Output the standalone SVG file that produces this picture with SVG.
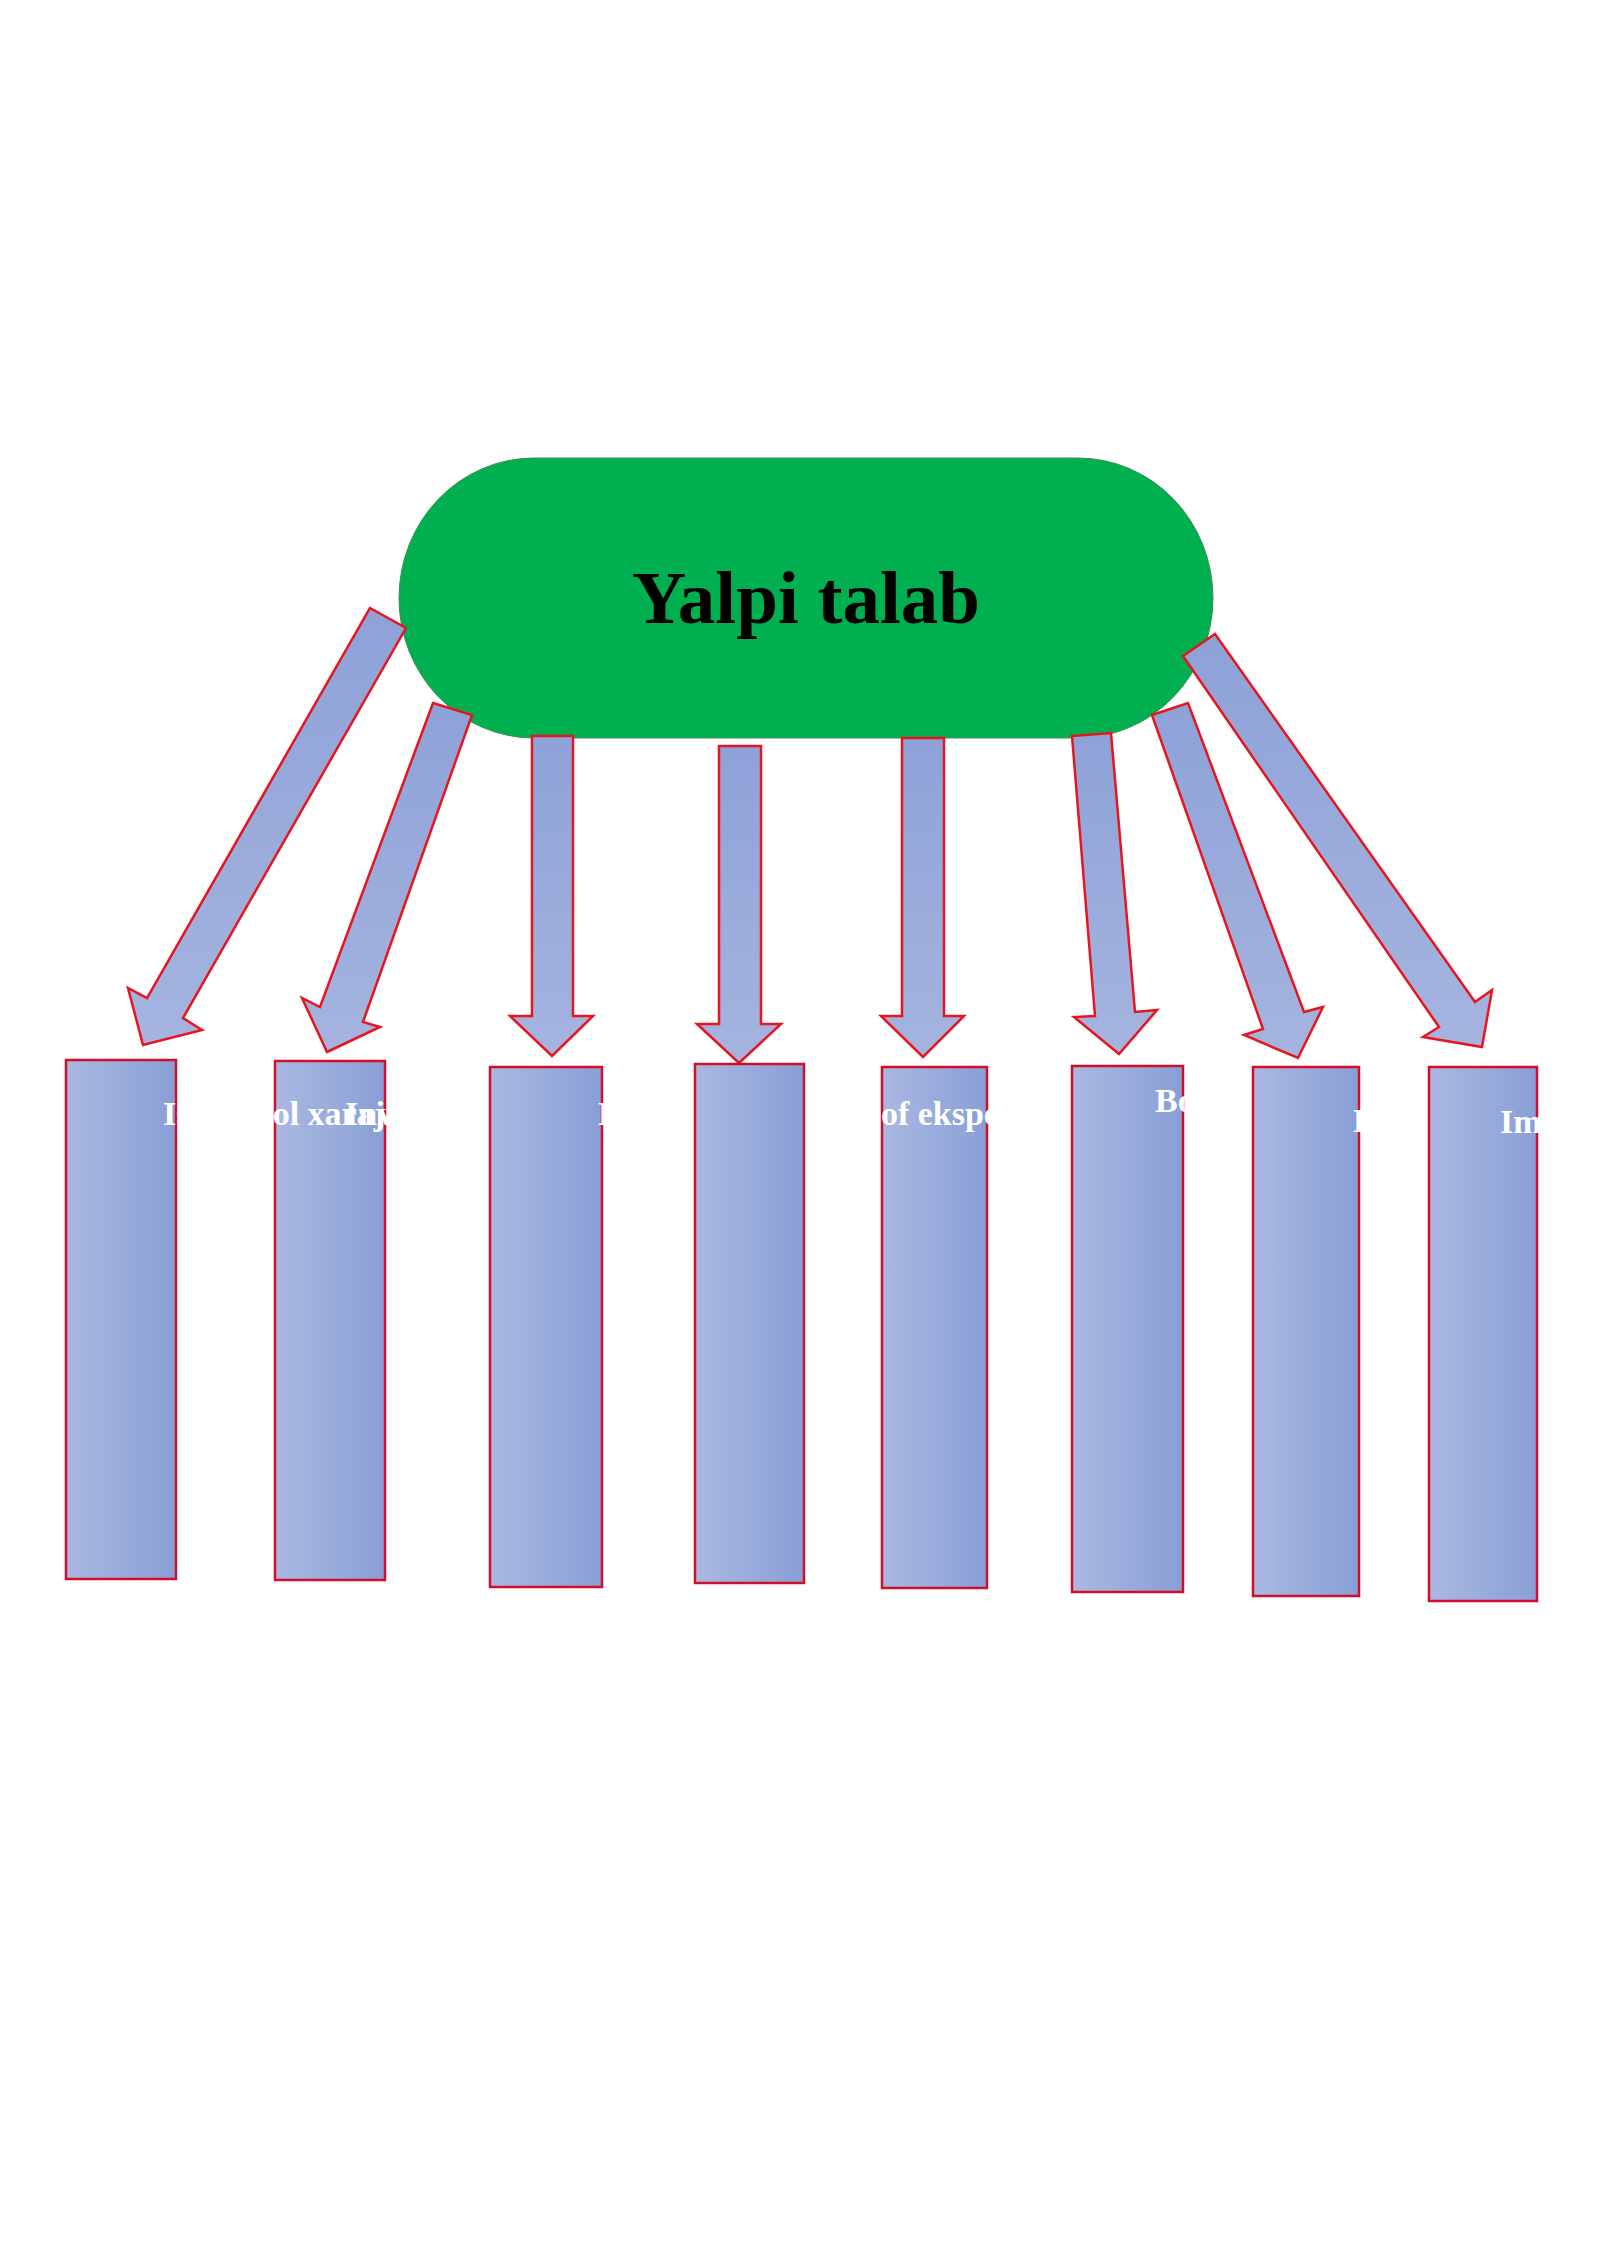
<svg xmlns="http://www.w3.org/2000/svg" width="1600" height="2262" viewBox="0 0 1600 2262">
<style>
.box{fill:url(#boxGrad);stroke:#D0102A;stroke-width:2.5}
.arrow{fill:url(#arrGrad);stroke:#E8141E;stroke-width:2.5;stroke-linejoin:miter}
.lbl{font-family:"Liberation Serif","Times New Roman",serif;font-weight:bold;font-size:34px;fill:#FFFFFF}
.title{font-family:"Liberation Serif","Times New Roman",serif;font-weight:bold;font-size:75px;fill:#000000}
</style>
<defs>
<linearGradient id="boxGrad" x1="0" y1="0" x2="1" y2="0">
<stop offset="0" stop-color="#AAB8E1"/>
<stop offset="0.5" stop-color="#9AACDC"/>
<stop offset="1" stop-color="#899ED6"/>
</linearGradient>
<linearGradient id="arrGrad" x1="0" y1="0" x2="0" y2="1">
<stop offset="0" stop-color="#8EA2D8"/>
<stop offset="1" stop-color="#A5B4DF"/>
</linearGradient>
<clipPath id="c2"><rect x="0" y="1000" width="488" height="200"/></clipPath>
<clipPath id="c3"><rect x="0" y="1000" width="693" height="200"/></clipPath>
<clipPath id="c6"><rect x="0" y="1000" width="1251" height="200"/></clipPath>
<clipPath id="c7"><rect x="0" y="1000" width="1427" height="200"/></clipPath>
</defs>
<rect x="0" y="0" width="1600" height="2262" fill="#FFFFFF"/>
<g id="yalpi-talab">
<rect x="399" y="458" width="814" height="280" rx="135" ry="140" fill="#00B050" stroke="#3E8A55" stroke-width="1"/>
<text class="title" x="806" y="623" text-anchor="middle">Yalpi talab</text>
</g>
<g id="connectors">
<polygon class="arrow" points="370,608 406,628 183,1018 202,1030 143,1045 128,988 147,998"/>
<polygon class="arrow" points="433,703 472,715 363,1022 380,1027 327,1052 302,998 320,1007"/>
<polygon class="arrow" points="532,736 573,736 573,1016 593,1016 552,1056 510,1016 532,1016"/>
<polygon class="arrow" points="719,746 761,746 761,1024 781,1024 739,1063 697,1024 719,1024"/>
<polygon class="arrow" points="902,738 944,738 944,1016 964,1016 923,1057 881,1016 902,1016"/>
<polygon class="arrow" points="1072,736 1111,733 1135,1012 1157,1010 1119,1054 1074,1017 1095,1016"/>
<polygon class="arrow" points="1152,715 1188,703 1304,1012 1323,1007 1298,1058 1244,1035 1263,1029"/>
<polygon class="arrow" points="1183,656 1215,634 1475,1002 1492,990 1482,1047 1423,1037 1439,1027"/>
</g>
<g id="box1"><rect class="box" x="66" y="1060" width="110" height="519"/></g>
<g id="box2"><rect class="box" x="275" y="1061" width="110" height="519"/></g>
<g id="box3"><rect class="box" x="490" y="1067" width="112" height="520"/></g>
<g id="box4"><rect class="box" x="695" y="1064" width="109" height="519"/></g>
<g id="box5"><rect class="box" x="882" y="1067" width="105" height="521"/></g>
<g id="box6"><rect class="box" x="1072" y="1066" width="111" height="526"/></g>
<g id="box7"><rect class="box" x="1253" y="1067" width="106" height="529"/></g>
<g id="box8"><rect class="box" x="1429" y="1067" width="108" height="534"/></g>
<g id="labels">
<text id="label1" class="lbl" x="163" y="1125">Iste'm<tspan dx="19">ol xarajatlari</tspan></text>
<text id="label2" class="lbl" x="345" y="1125" clip-path="url(#c2)">Investitsiya xarajatlari</text>
<text id="label3" class="lbl" x="598" y="1125" clip-path="url(#c3)">Davlat xarajatlari</text>
<text id="label5" class="lbl" x="862" y="1125">Sof eksport</text>
<text id="label6" class="lbl" x="1155" y="1112" clip-path="url(#c6)">Boylik samarasi</text>
<text id="label7" class="lbl" x="1353" y="1132" clip-path="url(#c7)">Foiz stavkasi samarasi</text>
<text id="label8" class="lbl" x="1500" y="1133">Import xaridlari samarasi</text>
</g>
</svg>
